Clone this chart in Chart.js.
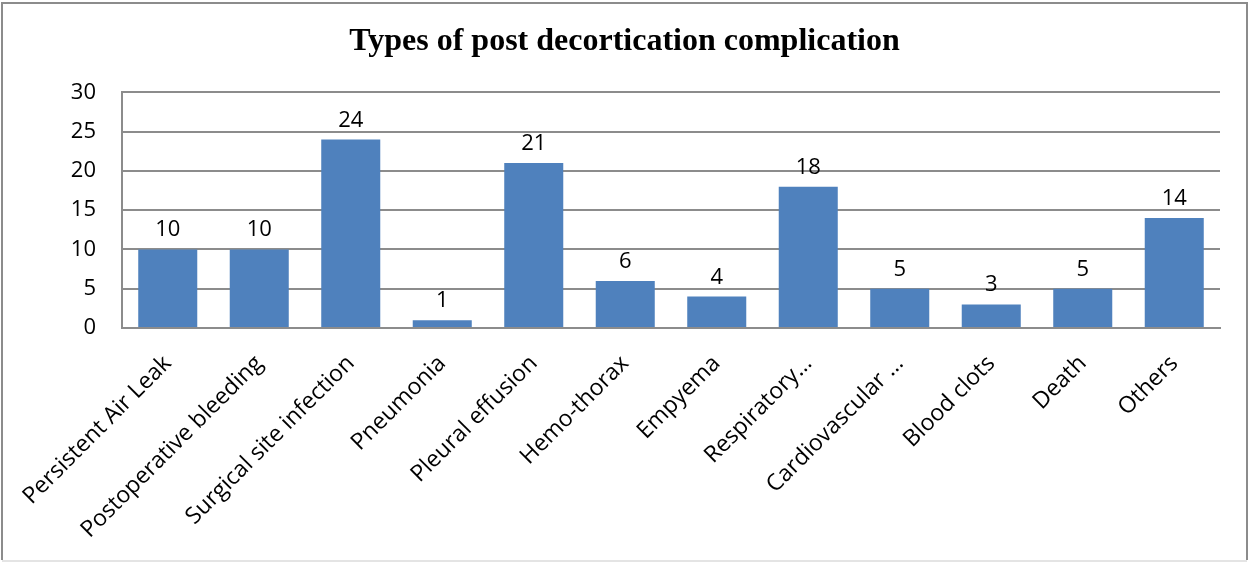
<!DOCTYPE html>
<html>
<head>
<meta charset="utf-8">
<title>Types of post decortication complication</title>
<script src="https://cdn.jsdelivr.net/npm/chart.js@4.4.1/dist/chart.umd.min.js"></script>
<style>
  html, body { margin: 0; padding: 0; background: #fff; }
  canvas { display: block; }
</style>
</head>
<body>
<canvas id="complications" width="1249" height="562"></canvas>
<script>
// complication categories and counts
const categories = [
  'Persistent Air Leak', 'Postoperative bleeding', 'Surgical site infection',
  'Pneumonia', 'Pleural effusion', 'Hemo-thorax', 'Empyema', 'Respiratory…',
  'Cardiovascular …', 'Blood clots', 'Death', 'Others'
];
const counts = [10, 10, 24, 1, 21, 6, 4, 18, 5, 3, 5, 14];
const yTicks = [0, 5, 10, 15, 20, 25, 30];

const sansFont = "'Open Sans', 'Liberation Sans', sans-serif";
const gridGray = '#8c8c8c';

// value printed above each bar
const barValues = {
  id: 'barValues',
  afterDatasetsDraw(chart) {
    const ctx = chart.ctx;
    const meta = chart.getDatasetMeta(0);
    ctx.save();
    ctx.font = '22px ' + sansFont;
    ctx.fillStyle = '#000';
    ctx.textAlign = 'center';
    ctx.textBaseline = 'alphabetic';
    meta.data.forEach((bar, i) => {
      ctx.fillText(String(counts[i]), bar.x, bar.y - 13);
    });
    ctx.restore();
  }
};

// outer frame round the whole chart
const frame = {
  id: 'frame',
  afterDraw(chart) {
    const ctx = chart.ctx;
    ctx.save();
    ctx.lineWidth = 2;
    ctx.strokeStyle = '#8c8c8c';
    ctx.beginPath();
    ctx.moveTo(2, 560);
    ctx.lineTo(2, 3);
    ctx.lineTo(1247, 3);
    ctx.lineTo(1247, 560);
    ctx.stroke();
    ctx.strokeStyle = '#e4e4e4';
    ctx.beginPath();
    ctx.moveTo(2, 561);
    ctx.lineTo(1247, 561);
    ctx.stroke();
    ctx.restore();
  }
};

new Chart(document.getElementById('complications'), {
  type: 'bar',
  data: {
    labels: categories,
    datasets: [{
      data: counts,
      backgroundColor: '#4f81bd',
      borderWidth: 0,
      barPercentage: 0.645,
      categoryPercentage: 1
    }]
  },
  options: {
    responsive: false,
    animation: false,
    devicePixelRatio: 1,
    // equal side padding keeps the title centred on the page
    layout: { padding: { left: 29, right: 29, top: 0, bottom: 0 } },
    plugins: {
      legend: { display: false },
      tooltip: { enabled: false },
      title: {
        display: true,
        text: 'Types of post decortication complication',
        color: '#000',
        font: { family: "'Liberation Serif', 'Times New Roman', serif", size: 32, weight: 'bold' },
        padding: { top: 23, bottom: 31 }
      }
    },
    scales: {
      x: {
        grid: { display: false, drawTicks: false },
        border: { display: true, color: gridGray, width: 2 },
        ticks: {
          color: '#000',
          font: { family: sansFont, size: 23 },
          minRotation: 45,
          maxRotation: 45,
          autoSkip: false,
          padding: 22
        },
        afterFit(scale) { scale.height = 234; }
      },
      y: {
        min: 0,
        max: 30,
        afterBuildTicks(scale) { scale.ticks = yTicks.map(v => ({ value: v })); },
        grid: { color: gridGray, lineWidth: 2, drawTicks: false },
        border: { display: true, color: gridGray, width: 2 },
        ticks: {
          color: '#000',
          font: { family: sansFont, size: 22 },
          padding: 26
        },
        afterFit(scale) { scale.width = 93; }
      }
    }
  },
  plugins: [barValues, frame]
});
</script>
</body>
</html>
